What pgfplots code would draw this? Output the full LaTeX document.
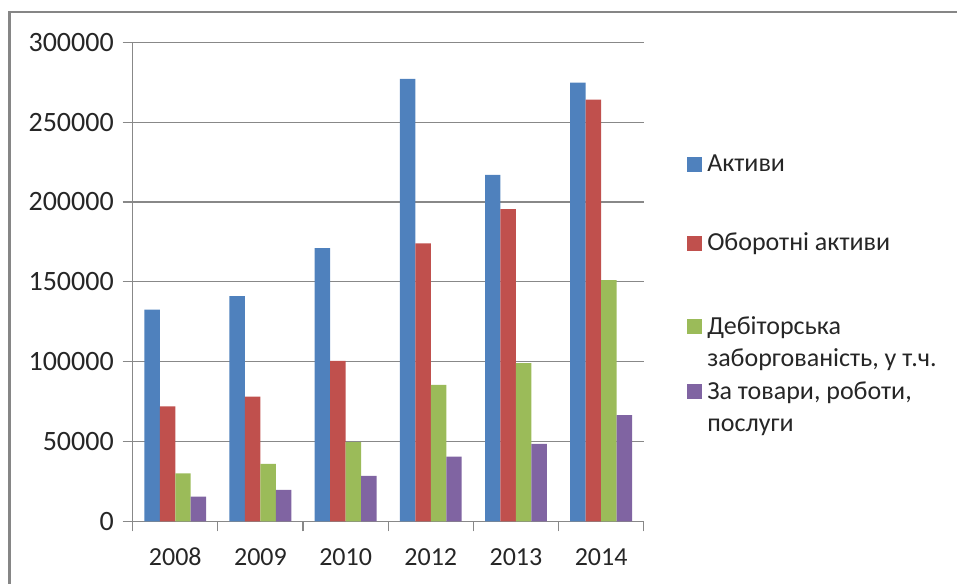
\documentclass[border=0pt]{standalone}
\usepackage{pgfplots}
\pgfplotsset{compat=1.18}
\usepackage{fontspec}
\setmainfont{Carlito}
\definecolor{cA}{HTML}{4F81BD}
\definecolor{cB}{HTML}{C0504D}
\definecolor{cC}{HTML}{9BBB59}
\definecolor{cD}{HTML}{8064A2}
\definecolor{framegray}{HTML}{868686}
\definecolor{gridgray}{HTML}{888888}
\begin{document}
\fontsize{19.5}{24.4}\selectfont
\begin{tikzpicture}
\useasboundingbox (0,0) rectangle (717.75pt,437.25pt);
\draw[line width=1.9pt, color=framegray] (7pt,-10pt) -- (7pt,428.1pt) -- (730pt,428.1pt);
\begin{axis}[
  at={(99.5pt,46.3pt)}, anchor=south west,
  scale only axis, width=383.3pt, height=359.25pt,
  xmin=-0.5, xmax=5.5, ymin=0, ymax=300000,
  ytick={0,50000,100000,150000,200000,250000,300000},
  scaled y ticks=false,
  /pgf/number format/.cd, fixed, set thousands separator={}, assume math mode=true, /pgfplots/.cd,
  ymajorgrids, grid style={color=gridgray, line width=0.9pt},
  axis x line=bottom, axis y line=left,
  axis line style={-, color=gridgray, line width=0.9pt},
  xtick={0,1,2,3,4,5},
  xticklabels={2008,2009,2010,2012,2013,2014},
  minor xtick={-0.5,0.5,1.5,2.5,3.5,4.5,5.5},
  tick align=outside, major tick length=7.5pt, minor tick length=7.5pt,
  major x tick style={draw=none},
  minor x tick style={color=gridgray, line width=0.9pt},
  major y tick style={color=gridgray, line width=0.9pt},
  xticklabel style={font=\fontsize{19.5}{24.4}\selectfont, color=black!85, yshift=-6pt},
  yticklabel style={font=\fontsize{21}{25}\selectfont, color=black!85},
  ybar=0pt, bar width=11.6pt,
  clip=false,
]
\addplot[fill=cA, draw=none] coordinates {(0,132500) (1,141000) (2,171000) (3,277000) (4,217000) (5,274700)};
\addplot[fill=cB, draw=none] coordinates {(0,72000) (1,78000) (2,100500) (3,174000) (4,195500) (5,264000)};
\addplot[fill=cC, draw=none] coordinates {(0,30000) (1,36000) (2,49500) (3,85500) (4,99000) (5,151000)};
\addplot[fill=cD, draw=none] coordinates {(0,15400) (1,19600) (2,28500) (3,40500) (4,48500) (5,66500)};
\end{axis}
% legend
\fill[cA] (515pt,308.25pt) rectangle +(11.25pt,11.25pt);
\node[anchor=base west, inner sep=0pt, text=black!85] at (530.25pt,308.25pt) {Активи};
\fill[cB] (515pt,249.2pt) rectangle +(11.25pt,11.25pt);
\node[anchor=base west, inner sep=0pt, text=black!85] at (530.25pt,249.2pt) {Оборотні активи};
\fill[cC] (515pt,186.75pt) rectangle +(11.25pt,11.25pt);
\node[anchor=base west, inner sep=0pt, text=black!85] at (530.25pt,186.75pt) {Дебіторська};
\node[anchor=base west, inner sep=0pt, text=black!85] at (530.25pt,162.2pt) {заборгованість, у т.ч.};
\fill[cD] (515pt,138pt) rectangle +(11.25pt,11.25pt);
\node[anchor=base west, inner sep=0pt, text=black!85] at (530.25pt,138pt) {За товари, роботи,};
\node[anchor=base west, inner sep=0pt, text=black!85] at (530.25pt,114pt) {послуги};
\end{tikzpicture}
\end{document}
